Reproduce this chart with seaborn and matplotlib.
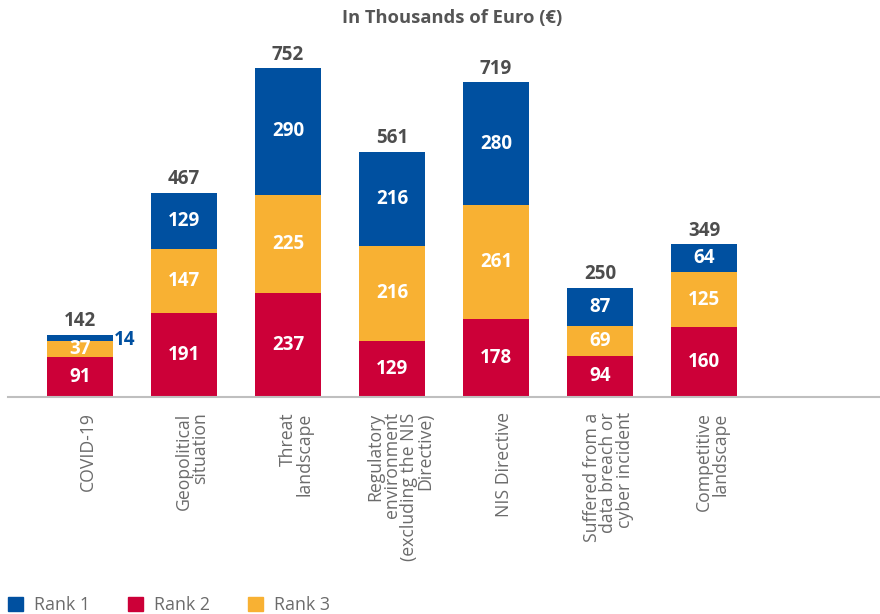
import seaborn as sns
import matplotlib.pyplot as plt
from matplotlib.patches import Patch
import pandas as pd

categories = ["COVID-19", "Geopolitical\nsituation", "Threat\nlandscape",
              "Regulatory\nenvironment\n(excluding the NIS\nDirective)", "NIS Directive",
              "Suffered from a\ndata breach or\ncyber incident", "Competitive\nlandscape"]
rank1 = [14, 129, 290, 216, 280, 87, 64]
rank2 = [91, 191, 237, 129, 178, 94, 160]
rank3 = [37, 147, 225, 216, 261, 69, 125]
totals = [142, 467, 752, 561, 719, 250, 349]

blue = "#0050a0"
red = "#cc0038"
orange = "#f8b133"
dark = "#4d4d4d"
grey = "#6b6b6b"

sns.set_theme(style="white")
plt.rcParams['font.family'] = ['Open Sans', 'DejaVu Sans']

df = pd.DataFrame({"cat": categories, "r1": rank1, "r2": rank2, "r3": rank3})
df["s23"] = df["r2"] + df["r3"]
df["all"] = df["s23"] + df["r1"]

fig = plt.figure(figsize=(8.8, 6.14), dpi=100)
ax = fig.add_axes([8 / 880, 217 / 614, 872 / 880, 350 / 614])

# stacked look by drawing cumulative sums back to front
for col, c in [("all", blue), ("s23", orange), ("r2", red)]:
    sns.barplot(data=df, x="cat", y=col, color=c, width=0.63, saturation=1,
                linewidth=0, edgecolor="none", ax=ax)

ax.set_xlim(-0.69, 7.69)
ax.set_ylim(0, 800)
ax.set_xlabel("")
ax.set_ylabel("")
ax.set_yticks([])
ax.set_xticks([])
for s in ["top", "right", "left"]:
    ax.spines[s].set_visible(False)
ax.spines["bottom"].set_color("#bfbfbf")
ax.spines["bottom"].set_linewidth(1.5)

lab = dict(ha="center", va="center", color="white", fontsize=13.5, fontweight="bold")
for i in range(len(categories)):
    r1, r2, r3, t = rank1[i], rank2[i], rank3[i], totals[i]
    ax.text(i, r2 / 2, str(r2), **lab)
    ax.text(i, r2 + r3 / 2, str(r3), **lab)
    if r1 < 40:
        ax.text(i + 0.33, r2 + r3 + r1 / 2 - 5, str(r1), ha="left", va="center",
                color=blue, fontsize=13.5, fontweight="bold")
    else:
        ax.text(i, r2 + r3 + r1 / 2, str(r1), **lab)
    ax.text(i, t + 8, str(t), ha="center", va="bottom", color=dark,
            fontsize=13.5, fontweight="bold")
    ax.annotate(categories[i], xy=(i + 0.08, 0), xycoords=("data", "axes fraction"),
                xytext=(0, -11), textcoords="offset points", rotation=90,
                ha="center", va="top", multialignment="right", color=grey,
                fontsize=12.7, linespacing=0.92)

fig.text(452 / 880, 1 - 18 / 614, "In Thousands of Euro (€)", ha="center", va="center",
         fontsize=13.2, fontweight="bold", color="#555555")

handles = [Patch(color=blue, label="Rank 1"), Patch(color=red, label="Rank 2"),
           Patch(color=orange, label="Rank 3")]
leg = fig.legend(handles=handles, loc="lower left", bbox_to_anchor=(-0.005, -0.02), ncol=3,
                 frameon=False, fontsize=12.8, handlelength=0.85, handleheight=0.85,
                 handletextpad=0.6, columnspacing=2.15, borderaxespad=0.3)
for t in leg.get_texts():
    t.set_color(grey)

fig.savefig("out.png", dpi=100)
